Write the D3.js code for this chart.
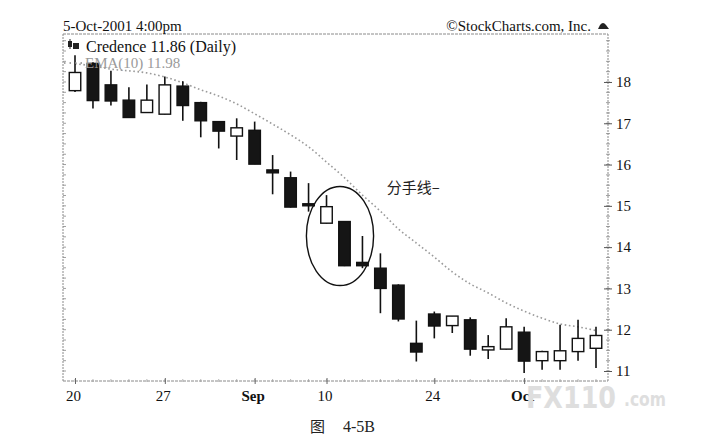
<!DOCTYPE html>
<html><head><meta charset="utf-8">
<script src="https://cdn.jsdelivr.net/npm/d3@7/dist/d3.min.js"></script>
<style>
html,body{margin:0;padding:0;background:#fff;}
svg{display:block;font-family:"Liberation Serif","Times New Roman",serif;}
</style></head>
<body><svg id="c" width="704" height="445"></svg>
<script>
// ---- data ----
const dates = ["Aug 20","Aug 21","Aug 22","Aug 23","Aug 24","Aug 27","Aug 28","Aug 29","Aug 30","Aug 31",
  "Sep 4","Sep 5","Sep 6","Sep 7","Sep 10","Sep 17","Sep 18","Sep 19","Sep 20","Sep 21",
  "Sep 24","Sep 25","Sep 26","Sep 27","Sep 28","Oct 1","Oct 2","Oct 3","Oct 4","Oct 5"];
const open  = [17.79,18.45,17.93,17.56,17.26,17.22,17.90,17.50,17.04,16.69,
  16.83,15.87,15.68,15.05,14.58,14.62,13.63,13.49,13.08,11.67,
  12.38,12.10,12.24,11.51,11.53,11.94,11.25,11.25,11.47,11.55];
const high  = [18.65,18.48,18.27,17.87,17.94,18.13,18.02,17.52,17.04,17.12,
  17.04,16.23,15.83,15.55,15.26,14.62,14.27,13.85,13.10,12.22,
  12.44,12.33,12.30,11.87,12.28,12.07,11.49,12.12,12.24,12.07];
const low   = [17.76,17.36,17.43,17.13,17.25,17.21,17.06,16.66,16.39,16.11,
  16.01,15.28,14.96,14.86,14.57,13.54,13.49,12.40,12.20,11.23,
  11.79,11.92,11.37,11.29,11.52,10.95,11.03,11.03,11.25,11.07];
const close = [18.23,17.55,17.54,17.14,17.56,17.93,17.43,17.06,16.81,16.89,
  16.01,15.80,14.97,15.02,14.98,13.55,13.55,13.00,12.26,11.46,
  12.09,12.33,11.53,11.59,12.07,11.24,11.47,11.49,11.79,11.86];
const ema10 = [18.44,18.39,18.31,18.27,18.22,18.12,17.98,17.81,17.66,17.47,
  17.23,16.98,16.72,16.43,16.06,15.68,15.26,14.87,14.44,14.10,
  13.76,13.40,13.11,12.89,12.65,12.45,12.28,12.14,12.07,11.98];
const xTickIndex = [0,5,10,14,20,25];
const xTickLabels = ["20","27","Sep","10","24","Oct"];
const xTickBold = [false,false,true,false,false,true];
const yTicks = [11,12,13,14,15,16,17,18];
const titleText = "5-Oct-2001 4:00pm";
const creditText = "\u00A9StockCharts.com, Inc.";
const legendMain = "Credence 11.86 (Daily)";
const legendEma = "EMA(10) 11.98";
const noteText = "分手线–";
const captionA = "图", captionB = "4-5B";
// annotation ellipse in data units: center index, center value, radius (index), radius (value)
const ellipseSpec = [14.75, 14.27, 1.87, 1.2];
const notePos = [17.35, 15.3];

// ---- layout ----
const L = 63, R = 608, T = 34, B = 381;
const svg = d3.select("#c");
const idx = d3.range(dates.length);
const x = d3.scaleLinear().domain([0, dates.length - 1]).range([75, 596]);
const y = d3.scaleLinear().domain([10.758, 19.162]).range([B, T]);
const step = x(1) - x(0);
const bw = step * 0.64;

// frame
const frame = svg.append("g").attr("stroke", "#8a8a8a").attr("stroke-width", 1).attr("fill", "none");
frame.append("line").attr("x1", L).attr("x2", R).attr("y1", T).attr("y2", T).attr("stroke-dasharray", "3,1");
frame.append("line").attr("x1", L).attr("x2", L).attr("y1", T).attr("y2", B).attr("stroke-dasharray", "2,1");
frame.append("line").attr("x1", L).attr("x2", R).attr("y1", B).attr("y2", B).attr("stroke-dasharray", "3,1");
frame.append("line").attr("x1", R).attr("x2", R).attr("y1", T).attr("y2", B).attr("stroke-dasharray", "2,1");

// minor ticks left & right
const minor = d3.range(11, 19.01, 0.25);
svg.append("g").selectAll("line").data(minor).join("line")
  .attr("x1", L).attr("x2", L + 3).attr("y1", d => y(d)).attr("y2", d => y(d))
  .attr("stroke", "#888").attr("stroke-width", 0.8);
svg.append("g").selectAll("line").data(minor).join("line")
  .attr("x1", R - 2).attr("x2", R + 2).attr("y1", d => y(d)).attr("y2", d => y(d))
  .attr("stroke", "#888").attr("stroke-width", 0.8);
// minor ticks bottom per day
svg.append("g").selectAll("line").data(idx).join("line")
  .attr("x1", d => x(d)).attr("x2", d => x(d)).attr("y1", B - 2).attr("y2", B + 1)
  .attr("stroke", "#999").attr("stroke-width", 0.7);

// right axis
const ya = svg.append("g").attr("transform", `translate(${R},0)`)
  .call(d3.axisRight(y).tickValues(yTicks).tickFormat(d3.format("d")).tickSize(4).tickPadding(4));
ya.select(".domain").remove();
ya.selectAll(".tick line").attr("x1", -4).attr("x2", 4).attr("stroke", "#555");
ya.selectAll(".tick text").style("font-family", "Liberation Serif").attr("font-size", 15).attr("fill", "#111");

// bottom axis
const xa = svg.append("g").attr("transform", `translate(0,${B})`)
  .call(d3.axisBottom(x).tickValues(xTickIndex).tickFormat((d, i) => xTickLabels[i]).tickSize(3).tickPadding(6));
xa.select(".domain").remove();
xa.selectAll(".tick line").attr("y1", -3).attr("y2", 3).attr("stroke", "#666");
xa.selectAll(".tick text").style("font-family", "Liberation Serif").attr("font-size", 15).attr("fill", "#111")
  .attr("dx", -2).attr("font-weight", (d, i) => xTickBold[i] ? "bold" : "normal");

// EMA line
svg.append("path").datum(idx)
  .attr("d", d3.line().curve(d3.curveMonotoneX).x(i => x(i)).y(i => y(ema10[i])))
  .attr("fill", "none").attr("stroke", "#9a9a9a").attr("stroke-width", 1.6)
  .attr("stroke-dasharray", "1.6,2.6");

// candles
const cg = svg.append("g").selectAll("g").data(idx).join("g");
cg.append("line")
  .attr("x1", i => x(i)).attr("x2", i => x(i))
  .attr("y1", i => y(high[i])).attr("y2", i => y(low[i]))
  .attr("stroke", "#111").attr("stroke-width", 1.6);
cg.append("rect")
  .attr("x", i => x(i) - bw / 2).attr("width", bw)
  .attr("y", i => y(Math.max(open[i], close[i])))
  .attr("height", i => Math.max(2, Math.abs(y(open[i]) - y(close[i]))))
  .attr("fill", i => close[i] >= open[i] ? "#fff" : "#151515")
  .attr("stroke", "#111").attr("stroke-width", 1.4);

// annotation ellipse
svg.append("ellipse")
  .attr("cx", x(ellipseSpec[0])).attr("cy", y(ellipseSpec[1]))
  .attr("rx", x(ellipseSpec[2]) - x(0)).attr("ry", y(0) - y(ellipseSpec[3]))
  .attr("fill", "none").attr("stroke", "#111").attr("stroke-width", 1.4);
svg.append("text").attr("x", x(notePos[0])).attr("y", y(notePos[1]))
  .style("font-family", "'Noto Sans CJK SC'").attr("font-size", 15).attr("fill", "#222").text(noteText);

// header
svg.append("text").attr("x", L).attr("y", 31).attr("font-size", 15).attr("fill", "#111").text(titleText);
svg.append("text").attr("x", 591).attr("y", 31).attr("text-anchor", "end").attr("font-size", 15).attr("fill", "#111").text(creditText);
svg.append("path").attr("d", "M598,29 L600,25 Q603,21 606,25 L609,29 Z").attr("fill", "#222");

// legend
const lg = svg.append("g").attr("fill", "#222");
lg.append("rect").attr("x", 68).attr("y", 41).attr("width", 4).attr("height", 6);
lg.append("rect").attr("x", 73).attr("y", 43).attr("width", 6).attr("height", 6);
lg.append("line").attr("x1", 70).attr("x2", 70).attr("y1", 39).attr("y2", 49).attr("stroke", "#222");
svg.append("text").attr("x", 86).attr("y", 52).attr("font-size", 16).attr("fill", "#111").text(legendMain);
svg.append("line").attr("x1", 64).attr("x2", 82).attr("y1", 63).attr("y2", 63)
  .attr("stroke", "#888").attr("stroke-width", 1.5).attr("stroke-dasharray", "1.5,4");
svg.append("text").attr("x", 85).attr("y", 68).attr("font-size", 15).attr("fill", "#9a9a9a").text(legendEma);

// caption
svg.append("text").attr("x", 310).attr("y", 432).style("font-family", "'Noto Sans CJK SC'").attr("font-size", 15).attr("fill", "#222").text(captionA);
svg.append("text").attr("x", 343).attr("y", 432).attr("font-size", 16).attr("fill", "#222").text(captionB);

// watermark (light logo text sitting over the lower-right corner, as in the reference)
const wm = svg.append("g").attr("fill", "#dedede").style("font-family", "'DejaVu Sans'").attr("font-weight", "bold");
wm.append("text").attr("x", 526).attr("y", 408).attr("font-size", 31).attr("textLength", 90).attr("lengthAdjust", "spacingAndGlyphs").text("FX110");
wm.append("text").attr("x", 624).attr("y", 406).attr("font-size", 19).attr("textLength", 42).attr("lengthAdjust", "spacingAndGlyphs").text(".com");
</script></body></html>
